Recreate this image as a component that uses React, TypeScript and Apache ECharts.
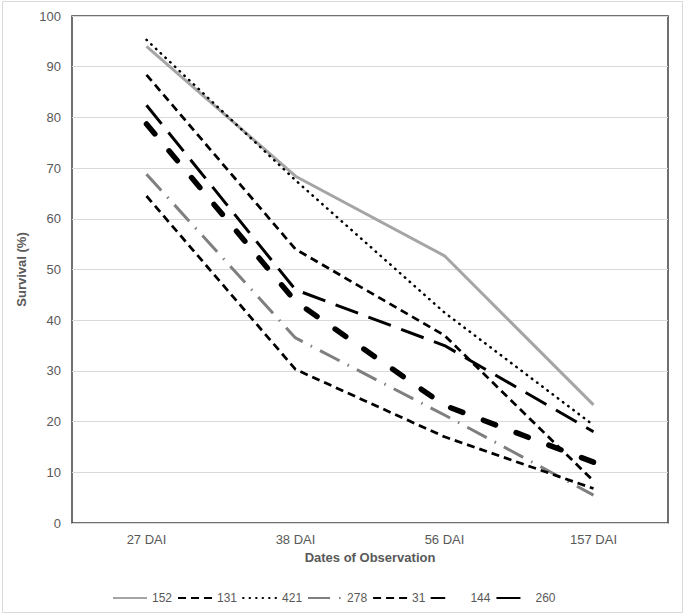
import React, { useEffect, useRef } from "react";
import * as echarts from "echarts";

const categories = ["27 DAI", "38 DAI", "56 DAI", "157 DAI"];
const seriesNames = ["152", "131", "421", "278", "31", "144", "260"];
const s152 = [94, 68.4, 52.7, 23.3];
const s131 = [88.4, 54, 37, 8.3];
const s421 = [95.3, 67.6, 41.5, 19.3];
const s278 = [68.8, 36.5, 21.3, 5.5];
const s31 = [64.5, 30.3, 17, 6.8];
const s144 = [78.7, 43.7, 23.2, 12];
const s260 = [82.4, 46, 35, 18];
const yTicks = { min: 0, max: 100, interval: 10 };

const FONT = "'Liberation Sans', Arial, sans-serif";

export default function App() {
  const ref = useRef<HTMLDivElement>(null);
  useEffect(() => {
    if (!ref.current) return;
    const chart = echarts.init(ref.current, null, { renderer: "svg" });
    const styles: any[] = [
      { color: "#A5A5A5", width: 3, type: "solid", cap: "butt" },
      { color: "#000000", width: 2.75, type: [8, 5], cap: "butt" },
      { color: "#000000", width: 2.5, type: [0.5, 6], cap: "round" },
      { color: "#7F7F7F", width: 3, type: [22, 9, 1.5, 9], cap: "butt" },
      { color: "#000000", width: 2.75, type: [8, 5], cap: "butt" },
      { color: "#000000", width: 5.5, type: [13, 22], cap: "round" },
      { color: "#000000", width: 3, type: [24, 11], cap: "butt" },
    ];
    const data = [s152, s131, s421, s278, s31, s144, s260];
    chart.setOption({
      animation: false,
      textStyle: { fontFamily: FONT },
      grid: {
        left: 72,
        top: 16,
        right: 17,
        bottom: 92,
        show: true,
        borderColor: "#404040",
        borderWidth: 1.5,
        backgroundColor: "transparent",
      },
      graphic: [
        {
          type: "rect",
          shape: { x: 2.5, y: 1.5, width: 680, height: 611 },
          style: { fill: "none", stroke: "#D9D9D9", lineWidth: 1 },
          silent: true,
        },
      ],
      legend: {
        left: 107,
        top: 587,
        itemWidth: 34,
        itemHeight: 14,
        itemGap: 5,
        data: seriesNames,
        itemStyle: { opacity: 0 },
        textStyle: { color: "#595959", fontSize: 12, fontFamily: FONT, width: 24 },
      },
      xAxis: {
        type: "category",
        data: categories,
        boundaryGap: true,
        axisTick: { show: false },
        axisLine: { show: true, lineStyle: { color: "#D9D9D9", width: 1 } },
        axisLabel: { color: "#595959", fontSize: 13, margin: 10, fontFamily: FONT },
        name: "Dates of Observation",
        nameLocation: "middle",
        nameGap: 27,
        nameTextStyle: { color: "#595959", fontSize: 13, fontWeight: "bold", fontFamily: FONT },
      },
      yAxis: {
        type: "value",
        min: yTicks.min,
        max: yTicks.max,
        interval: yTicks.interval,
        axisLine: { show: false },
        axisTick: { show: false },
        splitLine: { lineStyle: { color: "#D9D9D9", width: 1 } },
        axisLabel: { color: "#595959", fontSize: 13, margin: 11, fontFamily: FONT },
        name: "Survival (%)",
        nameLocation: "middle",
        nameGap: 40,
        nameTextStyle: { color: "#595959", fontSize: 13, fontWeight: "bold", fontFamily: FONT },
      },
      series: seriesNames.map((n, i) => ({
        name: n,
        type: "line",
        data: data[i],
        symbol: "none",
        showSymbol: false,
        lineStyle: styles[i],
        itemStyle: { color: styles[i].color },
        z: 2 + i,
      })),
    });
    return () => chart.dispose();
  }, []);
  return (
    <div
      ref={ref}
      style={{ position: "fixed", left: 0, top: 0, width: 685, height: 615, background: "#fff" }}
    />
  );
}
